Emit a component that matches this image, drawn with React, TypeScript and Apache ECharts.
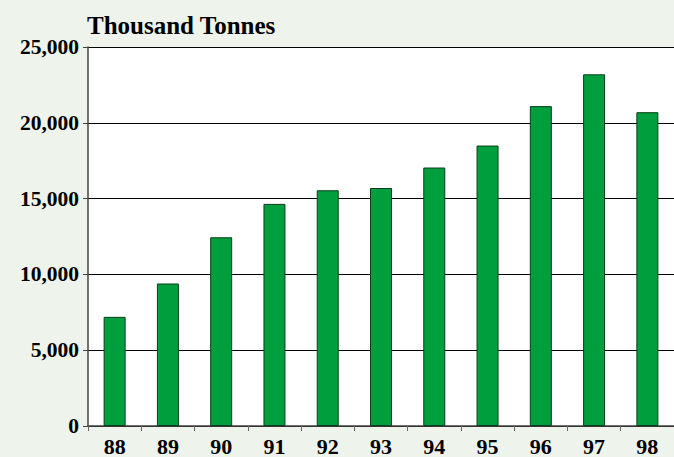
import React, { useEffect, useRef } from "react";
import * as echarts from "echarts";

const categories = ["88", "89", "90", "91", "92", "93", "94", "95", "96", "97", "98"];
const values = [7200, 9400, 12450, 14650, 15550, 15700, 17050, 18500, 21100, 23200, 20700];
const yTicks = [0, 5000, 10000, 15000, 20000, 25000];

export default function App() {
  const ref = useRef<HTMLDivElement>(null);
  useEffect(() => {
    const chart = echarts.init(ref.current!, null, { renderer: "svg" });
    const font = "'Liberation Serif', 'Times New Roman', serif";
    chart.setOption({
      animation: false,
      backgroundColor: "#eef4ec",
      textStyle: { fontFamily: font },
      title: {
        text: "Thousand Tonnes",
        left: 82,
        top: 8,
        textStyle: { fontFamily: font, fontWeight: "bold", fontSize: 25, color: "#000" },
      },
      grid: { left: 88, top: 47, right: -8, bottom: 29, show: true, backgroundColor: "#fff", borderWidth: 0 },
      xAxis: {
        type: "category",
        data: categories,
        axisLine: { show: true, lineStyle: { color: "#444", width: 1.5 } },
        axisTick: { show: true, length: 5, lineStyle: { color: "#666" } },
        axisLabel: { fontFamily: font, fontWeight: "bold", fontSize: 22, color: "#000", margin: 9 },
      },
      yAxis: {
        type: "value",
        min: 0,
        max: yTicks[yTicks.length - 1],
        interval: 5000,
        axisLine: { show: true, lineStyle: { color: "#444", width: 1.5 } },
        axisTick: { show: true, length: 5, lineStyle: { color: "#444" } },
        splitLine: { show: true, lineStyle: { color: "#000", width: 1 } },
        axisLabel: {
          fontFamily: font,
          fontWeight: "bold",
          fontSize: 21.5,
          color: "#000",
          margin: 9,
          formatter: (v: number) => v.toLocaleString("en-US"),
        },
      },
      series: [
        {
          type: "bar",
          data: values,
          barWidth: 22,
          itemStyle: { color: "#009e3c", borderColor: "#0b3d1e", borderWidth: 1 },
        },
      ],
    });
    return () => chart.dispose();
  }, []);
  return <div ref={ref} style={{ position: "fixed", left: 0, top: 0, width: 674, height: 457 }} />;
}
